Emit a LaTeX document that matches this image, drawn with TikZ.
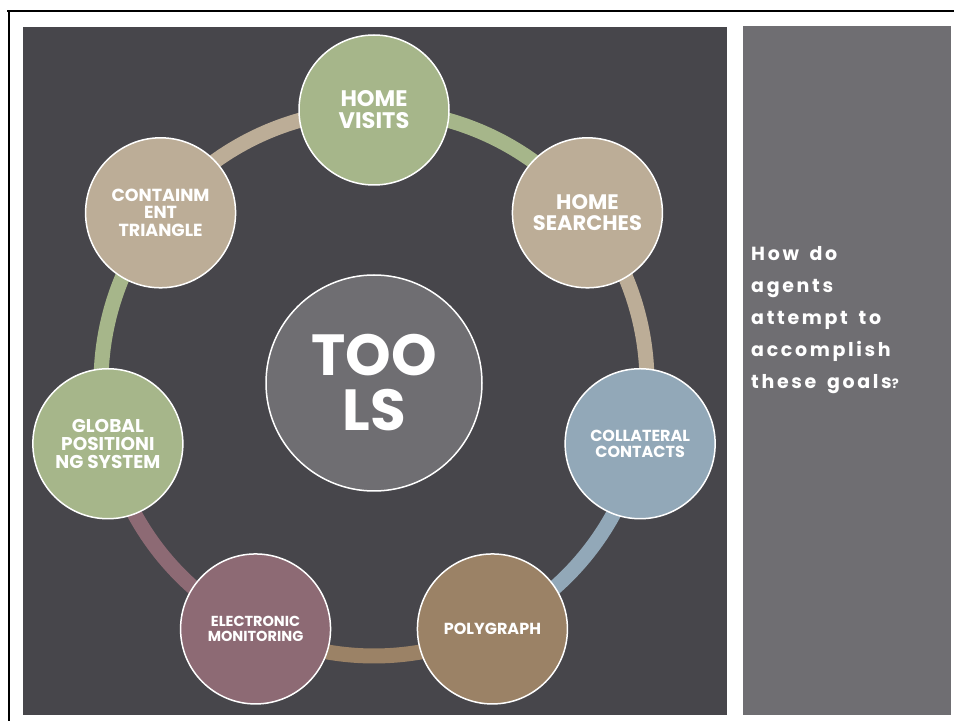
\documentclass[tikz,border=0pt]{standalone}
\usepackage{fontspec}
\setmainfont{Poppins}
\newfontfamily\askfont{Poppins}[LetterSpace=14, WordSpace=1.6]
\definecolor{toolbg}{HTML}{47464B}
\definecolor{panelgray}{HTML}{6F6E72}
\definecolor{sage}{HTML}{A6B68A}
\definecolor{sand}{HTML}{BCAD97}
\definecolor{steel}{HTML}{92A8B8}
\definecolor{umber}{HTML}{9B8266}
\definecolor{mauve}{HTML}{8D6A74}
\tikzset{
  tool/.style={circle, draw=white, line width=1.5pt, minimum size=150pt, inner sep=0pt,
    align=center, text=white, fill=#1, font=\bfseries\fontsize{16}{16}\selectfont},
  ring/.style={line width=15pt, draw=#1},
}
\begin{document}
\begin{tikzpicture}[x=1pt,y=1pt]
 \useasboundingbox (0,0) rectangle (954,721);
 \draw[line width=2pt] (7,710) -- (954,710); % frame
 \draw[line width=2pt] (9,710) -- (9,0);
 \fill[toolbg] (23,6) rectangle (727,694);
 \fill[panelgray] (743,6) rectangle (951,695);
 \coordinate (c) at (374,338);
 \foreach \k/\col in {0/sage,1/sand,2/steel,3/umber,4/mauve,5/sage,6/sand}{ % ring pieces
 \draw[ring=\col] (c) ++({90-\k*360/7}:273) arc[start angle={90-\k*360/7}, delta angle={-360/7}, radius=273];}
 \node[tool=panelgray, minimum size=216pt, font=\bfseries\fontsize{58}{55}\selectfont] (tools) at (c) {TOO\\LS};
 \path (c) ++(90:273) node[tool=sage, font=\bfseries\fontsize{22.5}{22}\selectfont] (hv) {HOME\\VISITS};
 \path (c) ++({90-360/7}:273) node[tool=sand, font=\bfseries\fontsize{21}{21}\selectfont] (hs) {HOME\\SEARCHES};
 \path (c) ++({90-2*360/7}:273) node[tool=steel] (cc) {COLLATERAL\\CONTACTS};
 \path (c) ++({90-3*360/7}:273) node[tool=umber] (pg) {POLYGRAPH};
 \path (c) ++({90-4*360/7}:273) node[tool=mauve, font=\bfseries\fontsize{14.5}{14.5}\selectfont] (em) {ELECTRONIC\\MONITORING};
 \path (c) ++({90-5*360/7}:273) node[tool=sage, font=\bfseries\fontsize{18.5}{18}\selectfont] (gps) {GLOBAL\\POSITIONI\\NG SYSTEM};
 \path (c) ++({90-6*360/7}:273) node[tool=sand, font=\bfseries\fontsize{17.5}{17.5}\selectfont] (ct) {CONTAINM\\ENT\\TRIANGLE};
 \node[anchor=north west, align=left, inner sep=0pt, text=white,
   font=\askfont\bfseries\fontsize{19}{32}\selectfont] (ask) at (751,475)
   {How do\\agents\\attempt to\\accomplish\\these goals{\fontsize{13}{32}\selectfont ?}};
\end{tikzpicture}
\end{document}
